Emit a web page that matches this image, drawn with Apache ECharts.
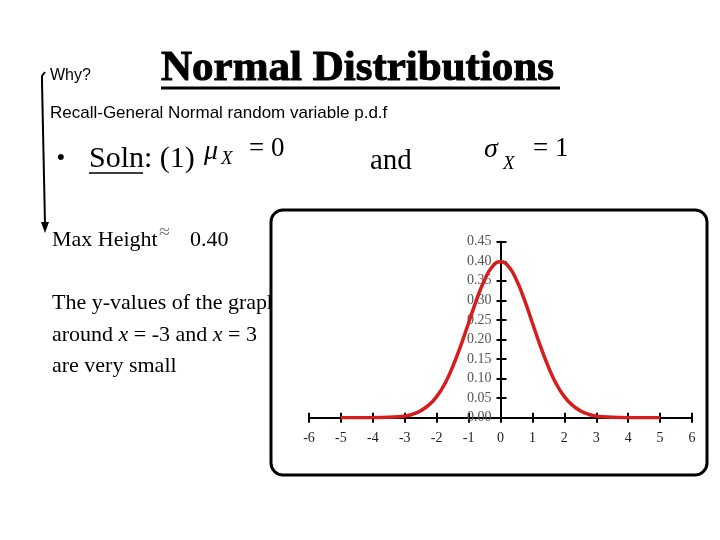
<!DOCTYPE html>
<html>
<head>
<meta charset="utf-8">
<script src="https://cdn.jsdelivr.net/npm/echarts@6/dist/echarts.min.js"></script>
<style>html,body{margin:0;padding:0;background:#fff}#c{width:720px;height:540px}</style>
</head>
<body>
<div id="c"></div>
<script>
// x positions and density values
const xs = [-5,-4.5,-4,-3.5,-3,-2.75,-2.5,-2.25,-2,-1.75,-1.5,-1.25,-1,-0.75,-0.5,-0.25,0,0.25,0.5,0.75,1,1.25,1.5,1.75,2,2.25,2.5,2.75,3,3.5,4,4.5,5];
const ys = [0.000,0.000,0.000,0.001,0.004,0.009,0.018,0.032,0.054,0.086,0.130,0.183,0.242,0.301,0.352,0.387,0.399,0.387,0.352,0.301,0.242,0.183,0.130,0.086,0.054,0.032,0.018,0.009,0.004,0.001,0.000,0.000,0.000];
const xTicks = [-6,-5,-4,-3,-2,-1,0,1,2,3,4,5,6];
const yTicks = [0.00,0.05,0.10,0.15,0.20,0.25,0.30,0.35,0.40,0.45];

const SERIF = '"Liberation Serif","Times New Roman",serif';
const SANS = '"Liberation Sans",Arial,sans-serif';

const chart = echarts.init(document.getElementById('c'), null, {renderer:'canvas'});
const pts = xs.map((x,i)=>[x, ys[i]]);

const GL = 309, GR = 28, GW = 720 - GL - GR;
const zeroOffset = -(GW * (0 - xTicks[0]) / (xTicks[xTicks.length-1] - xTicks[0]));

const xBase = {type:'value', min:xTicks[0], max:xTicks[xTicks.length-1], interval:1, splitLine:{show:false}, z:10};
const yBase = {type:'value', min:yTicks[0], max:yTicks[yTicks.length-1], interval:0.05, splitLine:{show:false}, z:10};

chart.setOption({
  backgroundColor:'#fff',
  animation:false,
  grid:{left:GL, right:GR, top:241.7, bottom:122.3, containLabel:false, outerBoundsMode:'none'},
  xAxis:[
    Object.assign({}, xBase, {position:'bottom',
      axisLine:{show:true, onZero:false, lineStyle:{color:'#000', width:2}},
      axisTick:{show:true, inside:false, length:5, lineStyle:{color:'#000', width:2}},
      axisLabel:{show:true, margin:14, fontFamily:SERIF, fontSize:14, color:'#222',
        formatter:v=>String(v)}}),
    Object.assign({}, xBase, {position:'bottom',
      axisLine:{show:false, onZero:false},
      axisTick:{show:true, inside:true, length:5, lineStyle:{color:'#000', width:2}},
      axisLabel:{show:false}})
  ],
  yAxis:[
    Object.assign({}, yBase, {position:'left', offset:zeroOffset,
      axisLine:{show:true, onZero:false, lineStyle:{color:'#000', width:2}},
      axisTick:{show:true, inside:false, length:4, lineStyle:{color:'#000', width:2}},
      axisLabel:{show:true, margin:9, fontFamily:SERIF, fontSize:14, color:'#555',
        formatter:v=>v.toFixed(2)}}),
    Object.assign({}, yBase, {position:'left', offset:zeroOffset,
      axisLine:{show:false, onZero:false},
      axisTick:{show:true, inside:true, length:6, lineStyle:{color:'#000', width:2}},
      axisLabel:{show:false}})
  ],
  series:[{
    type:'line', data:pts, xAxisIndex:0, yAxisIndex:0, smooth:true, showSymbol:false,
    lineStyle:{color:'#d61c1c', width:3.5}, z:12
  }],
  graphic:[
    {type:'text', x:50, y:76, z:1, style:{text:'Why?', font:'16px '+SANS, fill:'#000', verticalAlign:'middle'}},
    {type:'text', x:161, y:69, z:1, style:{text:'Normal Distributions', font:'bold 43px '+SERIF, fill:'#000', stroke:'#000', lineWidth:1, verticalAlign:'middle'}},
    {type:'line', z:1, shape:{x1:161, y1:88, x2:560, y2:88}, style:{stroke:'#000', lineWidth:3}},
    {type:'text', x:50, y:113, z:1, style:{text:'Recall-General Normal random variable p.d.f', font:'17px '+SANS, fill:'#000', verticalAlign:'middle'}},
    {type:'polyline', z:1, shape:{points:[[45,72],[42,76],[42,82],[45,224]]}, style:{stroke:'#000', lineWidth:2, fill:null}},
    {type:'polygon', z:1, shape:{points:[[41,222],[49,222],[45,233]]}, style:{fill:'#000'}},
    {type:'text', x:57, y:158, z:1, style:{text:'•', font:'22px '+SANS, fill:'#000', verticalAlign:'middle'}},
    {type:'text', x:89, y:159, z:1, style:{text:'Soln: (1)', font:'30px '+SERIF, fill:'#000', verticalAlign:'middle'}},
    {type:'line', z:1, shape:{x1:89, y1:173, x2:143, y2:173}, style:{stroke:'#000', lineWidth:1.5}},
    {type:'text', x:204, y:152, z:1, style:{text:'μ', font:'italic 28px '+SERIF, fill:'#000', verticalAlign:'middle'}},
    {type:'text', x:221, y:159, z:1, style:{text:'X', font:'italic 19px '+SERIF, fill:'#000', verticalAlign:'middle'}},
    {type:'text', x:249, y:149, z:1, style:{text:'= 0', font:'27px '+SERIF, fill:'#000', verticalAlign:'middle'}},
    {type:'text', x:370, y:161, z:1, style:{text:'and', font:'29px '+SERIF, fill:'#000', verticalAlign:'middle'}},
    {type:'text', x:484, y:150, z:1, style:{text:'σ', font:'italic 28px '+SERIF, fill:'#000', verticalAlign:'middle'}},
    {type:'text', x:503, y:164, z:1, style:{text:'X', font:'italic 19px '+SERIF, fill:'#000', verticalAlign:'middle'}},
    {type:'text', x:533, y:149, z:1, style:{text:'= 1', font:'27px '+SERIF, fill:'#000', verticalAlign:'middle'}},
    {type:'text', x:52, y:240, z:1, style:{text:'Max Height', font:'22px '+SERIF, fill:'#000', verticalAlign:'middle'}},
    {type:'text', x:159, y:233, z:1, style:{text:'≈', font:'20px '+SERIF, fill:'#777', verticalAlign:'middle'}},
    {type:'text', x:190, y:240, z:1, style:{text:'0.40', font:'22px '+SERIF, fill:'#000', verticalAlign:'middle'}},
    {type:'text', x:52, y:303, z:1, style:{text:'The y-values of the graph', font:'22px '+SERIF, fill:'#000', verticalAlign:'middle'}},
    {type:'text', x:52, y:335, z:1, style:{text:'around {i|x} = -3 and {i|x} = 3', font:'22px '+SERIF, fill:'#000', verticalAlign:'middle',
      rich:{i:{fontFamily:SERIF, fontStyle:'italic', fontSize:22, fill:'#000'}}}},
    {type:'text', x:52, y:366, z:1, style:{text:'are very small', font:'22px '+SERIF, fill:'#000', verticalAlign:'middle'}},
    {type:'rect', z:5, shape:{x:271, y:210, width:436, height:265, r:12}, style:{fill:'#fff', stroke:'#000', lineWidth:3}}
  ]
});
</script>
</body>
</html>
